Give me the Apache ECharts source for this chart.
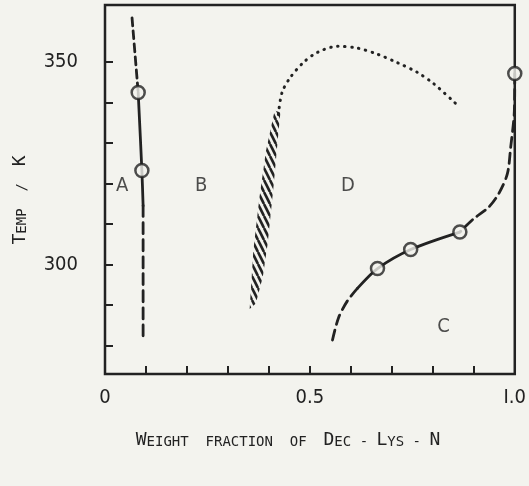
<!DOCTYPE html>
<html>
<head>
  <meta charset="utf-8">
  <title>Phase diagram</title>
  <style>
    html, body { margin: 0; padding: 0; background: #f3f3ee; }
    #chart { width: 529px; height: 486px; }
  </style>
</head>
<body>
  <div id="chart"></div>
</body>
<script src="https://cdn.jsdelivr.net/npm/echarts@6/dist/echarts.min.js"></script>
<script>
  // boundary A (left), split by line style
  var curveATop = [[0.066, 360.8], [0.081, 342.4]];
  var curveAMid = [[0.081, 342.4], [0.090, 323.2], [0.093, 314.5]];
  var curveABot = [[0.093, 314.5], [0.093, 298.0], [0.093, 281.8]];
  var curveAPoints = [[0.081, 342.4], [0.090, 323.2]];

  // boundary C (right)
  var curveCTop = [[1.0, 347.1], [0.999, 337.9], [0.990, 328.9], [0.982, 322.4], [0.961, 317.5], [0.936, 314.1], [0.900, 311.3], [0.866, 308.0]];
  var curveCMid = [[0.866, 308.0], [0.746, 303.7], [0.665, 299.0], [0.616, 294.1]];
  var curveCBot = [[0.616, 294.1], [0.592, 291.1], [0.570, 286.9], [0.555, 281.3]];
  var curveCPoints = [[1.0, 347.1], [0.866, 308.0], [0.746, 303.7], [0.665, 299.0]];

  // dotted boundary D
  var curveD = [[0.423, 337.0], [0.432, 342.4], [0.452, 346.1], [0.484, 349.8], [0.518, 352.3], [0.567, 353.8], [0.615, 353.4], [0.664, 351.9], [0.713, 349.8], [0.762, 347.4], [0.802, 344.6], [0.856, 339.7]];

  // hatched band
  var bandLeft = [[0.353, 289.0], [0.362, 303.4], [0.377, 316.6], [0.393, 328.1], [0.414, 338.0]];
  var bandRight = [[0.428, 337.5], [0.423, 332.3], [0.411, 319.0], [0.397, 305.2], [0.385, 296.9], [0.368, 290.4]];

  var regionNames = ['A', 'B', 'D', 'C'];
  var regionPos = [[0.042, 319.5], [0.235, 319.5], [0.593, 319.5], [0.826, 284.7]];

  var xTicks = [0.1, 0.2, 0.3, 0.4, 0.5, 0.6, 0.7, 0.8, 0.9];
  var xLabels = [0, 0.5, 1];
  var xLabelText = ['0', '0.5', 'I.0'];
  var yTicks = [280, 290, 300, 310, 320, 330, 340, 350];
  var yLabels = [300, 350];

  var ink = '#222';
  var bg = '#f3f3ee';
  var narrow = "'Liberation Sans Narrow', 'Noto Sans ExtraCondensed', 'Noto Sans Condensed', 'DejaVu Sans Condensed', sans-serif";
  var mono = "'DejaVu Sans Mono', 'Liberation Mono', monospace";

  // hatch pattern: steep "\" strokes
  var hatch = document.createElement('canvas');
  hatch.width = 6;
  hatch.height = 12;
  var hc = hatch.getContext('2d');
  hc.strokeStyle = ink;
  hc.lineWidth = 2.6;
  [-6, 0, 6].forEach(function (dx) {
    hc.beginPath();
    hc.moveTo(dx, 0);
    hc.lineTo(dx + 6, 12);
    hc.stroke();
  });

  function lineSeries(data, type, width) {
    return {
      type: 'line',
      data: data,
      smooth: 0.3,
      symbol: 'none',
      silent: true,
      lineStyle: { color: ink, width: width || 2.8, type: type, cap: 'round' },
      z: 3
    };
  }

  function circles(data) {
    return {
      type: 'scatter',
      data: data,
      symbol: 'circle',
      symbolSize: 13,
      itemStyle: { color: bg, borderColor: ink, borderWidth: 2.5 },
      z: 5
    };
  }

  var chart = echarts.init(document.getElementById('chart'));
  chart.setOption({
    backgroundColor: bg,
    animation: false,
    grid: {
      left: 105, right: 14, top: 5, bottom: 112,
      show: true, borderColor: ink, borderWidth: 2.5, backgroundColor: 'transparent'
    },
    xAxis: {
      type: 'value', min: 0, max: 1,
      axisLine: { show: false },
      splitLine: { show: false },
      axisTick: { show: true, inside: true, length: 8, lineStyle: { color: ink, width: 2 }, customValues: xTicks },
      axisLabel: {
        customValues: xLabels, margin: 14, color: ink, fontSize: 20, fontFamily: narrow,
        formatter: function (v) { return xLabelText[xLabels.indexOf(v)]; }
      }
    },
    yAxis: {
      type: 'value', min: 273, max: 364,
      axisLine: { show: false },
      splitLine: { show: false },
      axisTick: { show: true, inside: true, length: 8, lineStyle: { color: ink, width: 2 }, customValues: yTicks },
      axisLabel: { customValues: yLabels, margin: 27, color: ink, fontSize: 20, fontFamily: narrow }
    },
    graphic: [
      {
        type: 'text', x: 288, y: 440,
        style: {
          text: '{b|W}{s|EIGHT  FRACTION  OF  }{b|D}{s|EC - }{b|L}{s|YS - }{b|N}',
          align: 'center', verticalAlign: 'middle',
          rich: {
            b: { fontSize: 18, fontFamily: mono, fill: ink, verticalAlign: 'bottom' },
            s: { fontSize: 14, fontFamily: mono, fill: ink, verticalAlign: 'bottom' }
          }
        }
      },
      {
        type: 'text', x: 20, y: 200, rotation: Math.PI / 2,
        style: {
          text: '{b|T}{s|EMP  /  }{b|K}',
          align: 'center', verticalAlign: 'middle',
          rich: {
            b: { fontSize: 18, fontFamily: mono, fill: ink, verticalAlign: 'bottom' },
            s: { fontSize: 14, fontFamily: mono, fill: ink, verticalAlign: 'bottom' }
          }
        }
      }
    ],
    series: [
      {
        type: 'custom',
        data: [0],
        silent: true,
        z: 2,
        renderItem: function (params, api) {
          var pts = bandLeft.concat(bandRight).map(function (p) { return api.coord(p); });
          return {
            type: 'polygon',
            shape: { points: pts },
            style: { fill: { image: hatch, repeat: 'repeat' }, stroke: null }
          };
        }
      },
      lineSeries(curveATop, [8, 5]),
      lineSeries(curveAMid, 'solid'),
      lineSeries(curveABot, [11, 6]),
      lineSeries(curveCTop, [10, 6]),
      lineSeries(curveCMid, 'solid'),
      lineSeries(curveCBot, [10, 6]),
      lineSeries(curveD, [0.5, 6.5], 3),
      circles(curveAPoints),
      circles(curveCPoints),
      {
        type: 'scatter',
        symbolSize: 0,
        silent: true,
        data: regionPos.map(function (p, i) { return { name: regionNames[i], value: p }; }),
        label: {
          show: true, position: 'inside', formatter: '{b}',
          color: ink, fontSize: 20, fontFamily: narrow
        }
      }
    ]
  });
</script>
</html>
